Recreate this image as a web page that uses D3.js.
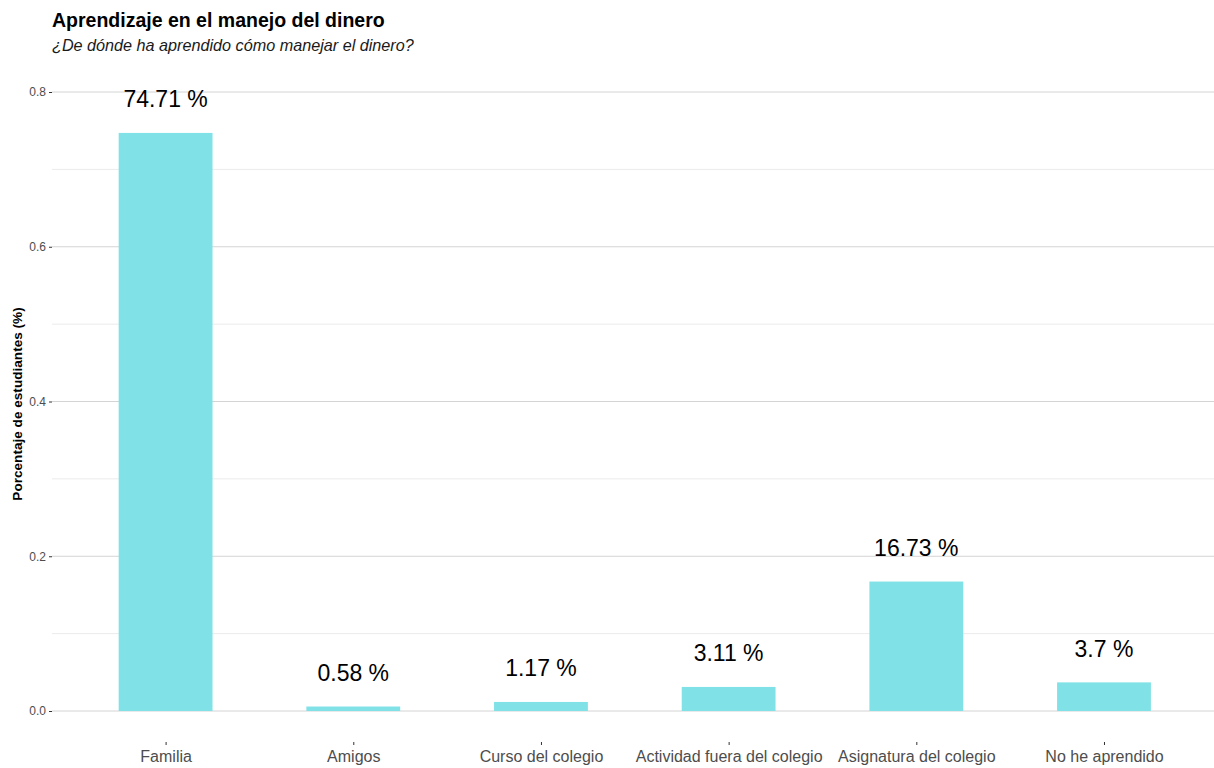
<!DOCTYPE html>
<html>
<head>
<meta charset="utf-8">
<script src="https://cdn.jsdelivr.net/npm/d3@7"></script>
<style>
  body { margin: 0; background: #fff; }
  svg { font-family: "Liberation Sans", Arial, sans-serif; }
</style>
</head>
<body>
<svg id="chart" width="1214" height="768"></svg>
<script>
// data
var categories = ["Familia", "Amigos", "Curso del colegio", "Actividad fuera del colegio",
                  "Asignatura del colegio", "No he aprendido"];
var shares = [0.7471, 0.0058, 0.0117, 0.0311, 0.1673, 0.037];
var labels = ["74.71 %", "0.58 %", "1.17 %", "3.11 %", "16.73 %", "3.7 %"];
var majorTicks = [0, 0.2, 0.4, 0.6, 0.8];
var minorTicks = [0.1, 0.3, 0.5, 0.7];

// layout
var panel = { left: 52, right: 1214, top: 62, bottom: 711 };

var svg = d3.select("#chart");

var x = d3.scalePoint()
    .domain(categories)
    .range([53, 1216.6])
    .padding(0.6);

var y = d3.scaleLinear()
    .domain([0, 0.8])
    .range([711, 92]);

var barWidth = x.step() * 0.5;

// minor grid
svg.append("g")
    .selectAll("line")
    .data(minorTicks)
    .enter()
    .append("line")
    .attr("x1", panel.left)
    .attr("x2", panel.right)
    .attr("y1", function (d) { return y(d); })
    .attr("y2", function (d) { return y(d); })
    .attr("stroke", "#ebebeb")
    .attr("stroke-width", 1);

// major grid
svg.append("g")
    .selectAll("line")
    .data(majorTicks)
    .enter()
    .append("line")
    .attr("x1", panel.left)
    .attr("x2", panel.right)
    .attr("y1", function (d) { return y(d); })
    .attr("y2", function (d) { return y(d); })
    .attr("stroke", "#d4d4d4")
    .attr("stroke-width", 1);

// y axis
var yAxis = d3.axisLeft(y)
    .tickValues(majorTicks)
    .tickFormat(d3.format(".1f"))
    .tickSize(3)
    .tickPadding(3);

var gy = svg.append("g")
    .attr("transform", "translate(" + panel.left + ",0)")
    .call(yAxis);
gy.select(".domain").remove();
gy.selectAll(".tick line").attr("stroke", "#333");
gy.selectAll("text")
    .attr("fill", "#4d4d4d")
    .style("font-size", "12px")
    .style("font-family", "Liberation Sans, Arial, sans-serif");

// bars
svg.append("g")
    .selectAll("rect")
    .data(shares)
    .enter()
    .append("rect")
    .attr("x", function (d, i) { return x(categories[i]) - barWidth / 2; })
    .attr("y", function (d) { return y(d); })
    .attr("width", barWidth)
    .attr("height", function (d) { return y(0) - y(d); })
    .attr("fill", "#80e2e6");

// value labels
svg.append("g")
    .selectAll("text")
    .data(shares)
    .enter()
    .append("text")
    .attr("x", function (d, i) { return x(categories[i]); })
    .attr("y", function (d) { return y(d) - 25.5; })
    .attr("text-anchor", "middle")
    .attr("fill", "#000")
    .style("font-size", "23px")
    .text(function (d, i) { return labels[i]; });

// x axis
var xAxis = d3.axisBottom(x)
    .tickSize(3)
    .tickPadding(6);

var gx = svg.append("g")
    .attr("transform", "translate(0,742)")
    .call(xAxis);
gx.select(".domain").remove();
gx.selectAll(".tick line").attr("stroke", "#333");
gx.selectAll("text")
    .attr("fill", "#4d4d4d")
    .style("font-size", "16px")
    .style("font-family", "Liberation Sans, Arial, sans-serif");

// axis title
svg.append("text")
    .attr("transform", "translate(22,404) rotate(-90)")
    .attr("text-anchor", "middle")
    .style("font-size", "13.6px")
    .style("font-weight", "bold")
    .text("Porcentaje de estudiantes (%)");

// titles
svg.append("text")
    .attr("x", 52)
    .attr("y", 27)
    .style("font-size", "19.5px")
    .style("font-weight", "bold")
    .text("Aprendizaje en el manejo del dinero");

svg.append("text")
    .attr("x", 52)
    .attr("y", 51)
    .style("font-size", "16.2px")
    .style("font-style", "italic")
    .attr("fill", "#1a1a1a")
    .text("¿De dónde ha aprendido cómo manejar el dinero?");
</script>
</body>
</html>
